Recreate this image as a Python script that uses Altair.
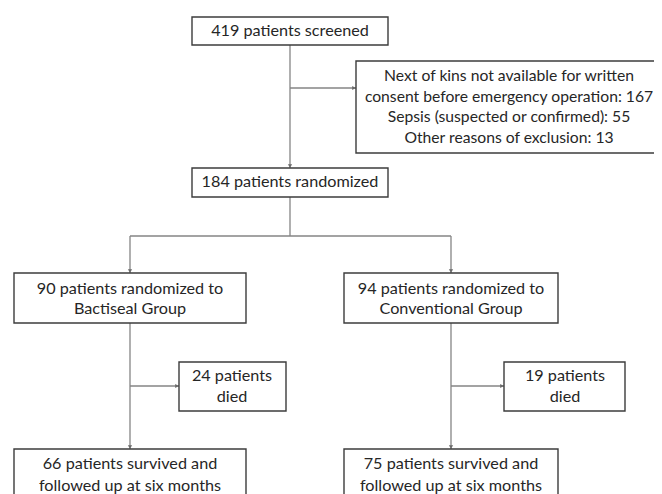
import altair as alt
import pandas as pd

# ---- flowchart content (texts) ----
box_texts = [
    ["419 patients screened"],
    ["Next of kins not available for written",
     "consent before emergency operation: 167",
     "Sepsis (suspected or confirmed): 55",
     "Other reasons of exclusion: 13"],
    ["184 patients randomized"],
    ["90 patients randomized to", "Bactiseal Group"],
    ["94 patients randomized to", "Conventional Group"],
    ["24 patients", "died"],
    ["19 patients", "died"],
    ["66 patients survived and", "followed up at six months"],
    ["75 patients survived and", "followed up at six months"],
]

# ---- box layout (pixel units of the flow diagram) ----
box_x0 = [192, 356, 192, 14, 344, 179, 504, 14, 344]
box_x1 = [388, 670, 388, 246, 558, 286, 625, 246, 558]
box_y0 = [17, 61, 168, 273, 273, 362, 362, 449, 449]
box_y1 = [45, 153, 197, 323, 323, 411, 411, 512, 512]
text_cx = [290, 509, 290, 130, 451, 232, 565, 130, 451]
text_top = [31, 76, 182, 289, 289, 376, 376, 464, 464]
line_gap = [21, 20.7, 21, 20, 20, 21, 21, 22, 22]
font_px = [16.2, 15.7, 16.2, 16.2, 16.2, 16.2, 16.2, 16.2, 16.2]

# ---- connectors ----
conn_x0 = [290, 290, 290, 130, 130, 451, 130, 130, 451, 451]
conn_y0 = [45, 88, 197, 236, 236, 236, 323, 386, 323, 386]
conn_x1 = [290, 356, 290, 451, 130, 451, 130, 179, 451, 504]
conn_y1 = [168, 88, 236, 236, 273, 273, 449, 386, 449, 386]
conn_arrow = [True, True, False, False, True, True, True, True, True, True]

boxes = pd.DataFrame({"x0": box_x0, "x1": box_x1, "y0": box_y0, "y1": box_y1})

rows = []
for i, lines in enumerate(box_texts):
    for j, t in enumerate(lines):
        rows.append({"x": text_cx[i], "y": text_top[i] + j * line_gap[i],
                     "t": t, "fs": font_px[i]})
texts = pd.DataFrame(rows)

conns = pd.DataFrame({"x0": conn_x0, "y0": conn_y0, "x1": conn_x1, "y1": conn_y1})

arr = []
for x0, y0, x1, y1, a in zip(conn_x0, conn_y0, conn_x1, conn_y1, conn_arrow):
    if not a:
        continue
    if x0 == x1:
        arr.append({"x": x1, "y": y1 - 2, "shape": "triangle-down"})
    else:
        arr.append({"x": x1 - 2, "y": y1, "shape": "triangle-right"})
arrows = pd.DataFrame(arr)

xs = alt.Scale(domain=[8, 654], nice=False, zero=False)
ys = alt.Scale(domain=[494, 8], nice=False, zero=False)

line_col = "#858585"
box_col = "#3c3c3c"
text_col = "#262626"

rules = alt.Chart(conns).mark_rule(color=line_col, strokeWidth=1.3).encode(
    x=alt.X("x0:Q", scale=xs, axis=None),
    y=alt.Y("y0:Q", scale=ys, axis=None),
    x2="x1:Q",
    y2="y1:Q",
)

heads = alt.Chart(arrows).mark_point(filled=True, color="#6a6a6a", size=18, opacity=1).encode(
    x=alt.X("x:Q", scale=xs, axis=None),
    y=alt.Y("y:Q", scale=ys, axis=None),
    shape=alt.Shape("shape:N", scale=None),
)

rects = alt.Chart(boxes).mark_rect(fill="white", stroke=box_col, strokeWidth=1.4).encode(
    x=alt.X("x0:Q", scale=xs, axis=None),
    x2="x1:Q",
    y=alt.Y("y0:Q", scale=ys, axis=None),
    y2="y1:Q",
)

labels = alt.Chart(texts).mark_text(
    font="Lato", color=text_col, align="center", baseline="middle"
).encode(
    x=alt.X("x:Q", scale=xs, axis=None),
    y=alt.Y("y:Q", scale=ys, axis=None),
    text="t:N",
    size=alt.Size("fs:Q", scale=None, legend=None),
)

chart = alt.layer(rules, heads, rects, labels).properties(
    width=646, height=486, padding=0,
    autosize=alt.AutoSizeParams(type="none"),
    background="white",
).configure_view(stroke=None)

chart.save("out.html", embed_options={"renderer": "svg", "actions": False})
